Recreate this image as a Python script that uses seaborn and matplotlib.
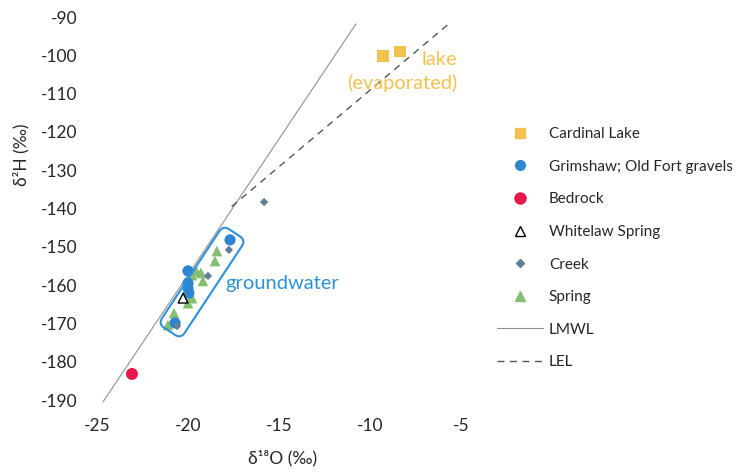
import numpy as np
import pandas as pd
import matplotlib
matplotlib.use("Agg")
import matplotlib.pyplot as plt
import seaborn as sns
from matplotlib.lines import Line2D
from matplotlib.patches import FancyBboxPatch
from matplotlib.transforms import Affine2D

# ---- data ----
lake_x = [-9.29, -8.35]
lake_y = [-100.2, -99.1]
grim_x = [-17.69, -20.0, -20.0, -20.0, -19.95, -20.71]
grim_y = [-148.2, -156.3, -159.5, -160.8, -162.1, -169.9]
bed_x = [-23.08]
bed_y = [-183.2]
white_x = [-20.27]
white_y = [-163.4]
creek_x = [-15.82, -17.75, -18.9, -20.6]
creek_y = [-138.3, -150.8, -157.6, -170.7]
spring_x = [-18.41, -18.52, -19.56, -19.29, -19.18, -19.78, -19.78, -20.0, -20.77, -20.82, -21.1]
spring_y = [-151.1, -153.7, -156.3, -156.8, -158.9, -157.4, -163.4, -164.7, -167.3, -169.4, -170.4]
lmwl_x = [-24.67, -10.77]
lmwl_y = [-190.5, -91.8]
lel_x = [-17.6, -5.55]
lel_y = [-139.5, -91.3]
xticks = [-25, -20, -15, -10, -5]
yticks = [-190, -180, -170, -160, -150, -140, -130, -120, -110, -100, -90]

C_LAKE = "#F2C24F"
C_GRIM = "#2E86D0"
C_BED = "#E6194B"
C_CREEK = "#5E7F95"
C_SPRING = "#86BE72"
C_GW = "#2F8FD8"
C_TXT = "#262626"

sns.set_theme(style="white")
plt.rcParams["font.family"] = ["Lato", "DejaVu Sans"]

W, H = 752, 473
fig = plt.figure(figsize=(W / 100, H / 100), dpi=100)
ax = fig.add_axes([97 / W, 1 - 400 / H, (461 - 97) / W, (400 - 17) / H])
ax.set_xlim(-25, -5)
ax.set_ylim(-190, -90)

# lines
sns.lineplot(x=lmwl_x, y=lmwl_y, ax=ax, color="#909090", lw=0.8, clip_on=False)
sns.lineplot(x=lel_x, y=lel_y, ax=ax, color="#555555", lw=1.0, clip_on=False)
ax.lines[-1].set_dashes((5, 4))

def sc(x, y, **kw):
    sns.scatterplot(x=x, y=y, ax=ax, legend=False, clip_on=False, zorder=3, **kw)

sc(spring_x, spring_y, marker="^", s=60, color=C_SPRING, edgecolor="none")
sc(grim_x, grim_y, marker="o", s=65, color=C_GRIM, edgecolor="none")
sc(creek_x, creek_y, marker="D", s=18, color=C_CREEK, edgecolor="none")
sc(white_x, white_y, marker="^", s=50, facecolor="none", edgecolor="black", linewidth=1.0)
sc(bed_x, bed_y, marker="o", s=75, color=C_BED, edgecolor="none")
sc(lake_x, lake_y, marker="s", s=65, color=C_LAKE, edgecolor="none")

# groundwater box (rotated rounded rectangle)
cx, cy = ax.transData.transform((-19.23, -159.2))
box = FancyBboxPatch((-59, -13.5), 118, 27, boxstyle="round,pad=0,rounding_size=7",
                     facecolor="none", edgecolor=C_GW, lw=1.5,
                     transform=Affine2D().rotate_deg(56.6).translate(cx, cy))
box.set_clip_on(False)
fig.patches.append(box)
box.set_figure(fig)

ax.text(-17.97, -159.6, "groundwater", color=C_GW, fontsize=14.5, ha="left", va="center")
ax.text(-5.2, -104.2, "lake\n(evaporated)", color=C_LAKE, fontsize=14.5, ha="right",
        va="center", multialignment="right", linespacing=1.35)

# axes styling
ax.set_xticks(xticks)
ax.set_yticks(yticks)
ax.set_xticklabels([str(v) for v in xticks])
ax.set_yticklabels([str(v) for v in yticks])
for s in ax.spines.values():
    s.set_visible(False)
ax.grid(False)
ax.tick_params(axis="both", length=0, labelsize=12.5, colors=C_TXT)
ax.tick_params(axis="x", pad=13)
ax.tick_params(axis="y", pad=14)
ax.set_xlabel("δ¹⁸O (‰)", fontsize=12.5, color=C_TXT)
ax.set_ylabel("δ²H (‰)", fontsize=12.5, color=C_TXT)
ax.xaxis.set_label_coords((283 - 97) / (461 - 97), -(450 - 400) / (400 - 17))
ax.yaxis.set_label_coords(-(97 - 29) / (461 - 97), (400 - 155) / (400 - 17))

handles = [
    Line2D([], [], marker="s", ls="none", color=C_LAKE, markersize=7),
    Line2D([], [], marker="o", ls="none", color=C_GRIM, markersize=7),
    Line2D([], [], marker="o", ls="none", color=C_BED, markersize=8),
    Line2D([], [], marker="^", ls="none", markerfacecolor="none", markeredgecolor="black", markersize=7),
    Line2D([], [], marker="D", ls="none", color=C_CREEK, markersize=4),
    Line2D([], [], marker="^", ls="none", color=C_SPRING, markersize=7),
    Line2D([], [], color="#909090", lw=0.8),
    Line2D([], [], color="#555555", lw=1.0, dashes=(5, 4)),
]
labels = ["Cardinal Lake", "Grimshaw; Old Fort gravels", "Bedrock", "Whitelaw Spring",
          "Creek", "Spring", "LMWL", "LEL"]
fig.legend(handles, labels, loc="upper left", bbox_to_anchor=(497 / W, 1 - 127 / H),
           bbox_transform=fig.transFigure, frameon=False, fontsize=11,
           handlelength=3, handletextpad=0.4, labelspacing=1.22, borderpad=0,
           borderaxespad=0, labelcolor=C_TXT)

fig.savefig("out.png", dpi=100)
